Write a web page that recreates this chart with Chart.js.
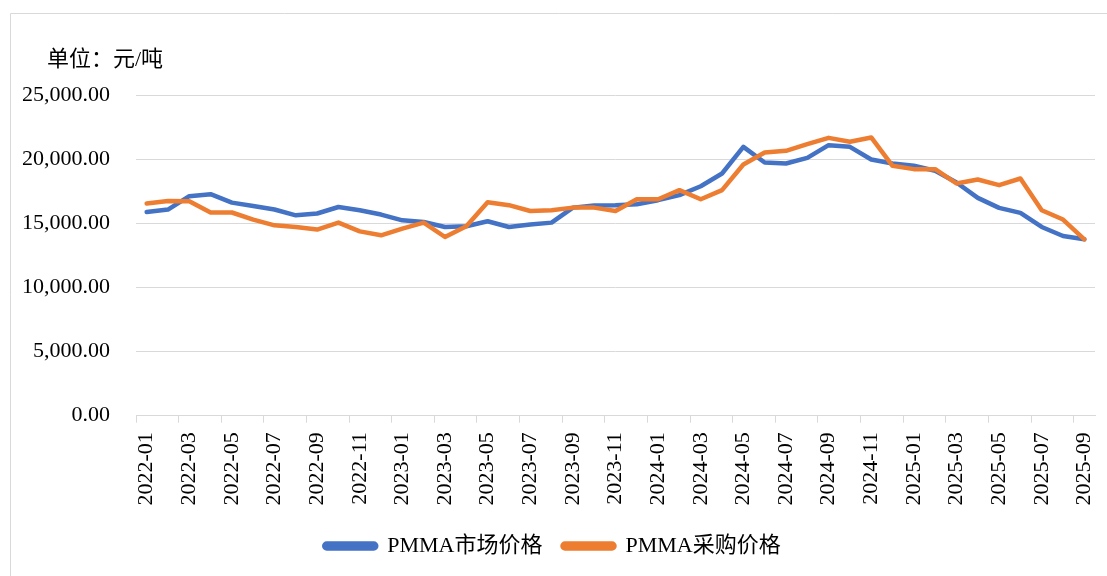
<!DOCTYPE html>
<html>
<head>
<meta charset="utf-8">
<script src="https://cdn.jsdelivr.net/npm/chart.js@4.4.1/dist/chart.umd.min.js"></script>
<style>
    html, body { margin: 0; padding: 0; background: #ffffff; }
    #wrap { width: 1107px; height: 576px; position: relative; }
</style>
</head>
<body>
<div id="wrap"><canvas id="priceChart" width="1107" height="576"></canvas></div>
<script>
// Monthly labels, 2022-01 .. 2025-09
const months = [
    '2022-01', '2022-02', '2022-03', '2022-04', '2022-05', '2022-06', '2022-07', '2022-08', '2022-09', '2022-10', '2022-11', '2022-12',
    '2023-01', '2023-02', '2023-03', '2023-04', '2023-05', '2023-06', '2023-07', '2023-08', '2023-09', '2023-10', '2023-11', '2023-12',
    '2024-01', '2024-02', '2024-03', '2024-04', '2024-05', '2024-06', '2024-07', '2024-08', '2024-09', '2024-10', '2024-11', '2024-12',
    '2025-01', '2025-02', '2025-03', '2025-04', '2025-05', '2025-06', '2025-07', '2025-08', '2025-09'
];

// PMMA市场价格 (元/吨)
const marketPrice = [
    15880, 16070, 17110, 17270, 16610, 16350, 16070, 15620, 15760, 16270, 16020, 15680,
    15230, 15100, 14710, 14770, 15160, 14710, 14900, 15050, 16220, 16380, 16400, 16480,
    16800, 17190, 17890, 18880, 20960, 19740, 19660, 20100, 21090, 20960, 19970, 19660,
    19480, 19090, 18180, 16980, 16200, 15810, 14710, 14010, 13750
];

// PMMA采购价格 (元/吨)
const purchasePrice = [
    16540, 16740, 16720, 15840, 15840, 15290, 14840, 14710, 14510, 15050, 14370, 14060,
    14580, 15050, 13930, 14770, 16640, 16410, 15960, 16020, 16220, 16220, 15960, 16870,
    16870, 17580, 16870, 17580, 19580, 20520, 20650, 21170, 21660, 21350, 21690, 19480,
    19220, 19220, 18100, 18410, 17970, 18490, 16020, 15290, 13750
];

const seriesNames = ['PMMA市场价格', 'PMMA采购价格'];
const yTicks = [0, 5000, 10000, 15000, 20000, 25000];
const unitLabel = '单位：元/吨';

const FONT = "'Liberation Serif', 'Times New Roman', 'Noto Sans CJK SC', serif";
const GRID = '#d9d9d9';

// white background, outer frame and unit text
const framePlugin = {
    id: 'frame',
    beforeDraw(chart) {
        const ctx = chart.ctx;
        ctx.save();
        ctx.fillStyle = '#ffffff';
        ctx.fillRect(0, 0, chart.width, chart.height);
        ctx.strokeStyle = GRID;
        ctx.lineWidth = 1;
        ctx.beginPath();
        ctx.moveTo(10.5, chart.height);
        ctx.lineTo(10.5, 13.5);
        ctx.lineTo(chart.width, 13.5);
        ctx.stroke();
        ctx.restore();
    },
    afterDraw(chart) {
        const ctx = chart.ctx;
        ctx.save();
        ctx.fillStyle = '#000000';
        ctx.font = '22px ' + FONT;
        ctx.textBaseline = 'middle';
        ctx.textAlign = 'left';
        ctx.fillText(unitLabel, 47, 60);
        ctx.restore();
    }
};

function formatNumber(value) {
    return Number(value).toLocaleString('en-US', {
        minimumFractionDigits: 2,
        maximumFractionDigits: 2
    });
}

const canvas = document.getElementById('priceChart');

new Chart(canvas.getContext('2d'), {
    type: 'line',
    data: {
        labels: months,
        datasets: [{
            label: seriesNames[0],
            data: marketPrice,
            borderColor: '#4472c4',
            backgroundColor: '#4472c4',
            borderWidth: 4.5,
            pointRadius: 0,
            tension: 0,
            borderJoinStyle: 'round',
            borderCapStyle: 'round',
            order: 1
        }, {
            label: seriesNames[1],
            data: purchasePrice,
            borderColor: '#ed7d31',
            backgroundColor: '#ed7d31',
            borderWidth: 4.5,
            pointRadius: 0,
            tension: 0,
            borderJoinStyle: 'round',
            borderCapStyle: 'round',
            order: 0
        }]
    },
    options: {
        responsive: false,
        animation: false,
        layout: {
            padding: { top: 95, right: 2, bottom: 9, left: 0 }
        },
        plugins: {
            legend: {
                position: 'bottom',
                labels: {
                    sort: (a, b) => a.datasetIndex - b.datasetIndex,
                    boxWidth: 52,
                    boxHeight: 5,
                    useBorderRadius: true,
                    borderRadius: 2.5,
                    padding: 20,
                    color: '#000000',
                    font: { family: FONT, size: 22 }
                }
            },
            tooltip: { enabled: false }
        },
        scales: {
            x: {
                offset: true,
                afterFit: (axis) => {
                    axis.paddingLeft = 0;
                    axis.paddingRight = 12;
                },
                grid: {
                    offset: true,
                    drawOnChartArea: false,
                    drawTicks: true,
                    tickLength: 7,
                    color: (c) => (c.index % 2 === 0 ? GRID : 'rgba(0,0,0,0)')
                },
                border: { display: true, color: GRID, width: 1 },
                ticks: {
                    autoSkip: false,
                    minRotation: 90,
                    maxRotation: 90,
                    padding: 9.5,
                    color: '#000000',
                    font: { family: FONT, size: 22 },
                    callback: function(value, index) {
                        return index % 2 === 0 ? this.getLabelForValue(value) : '';
                    }
                }
            },
            y: {
                min: 0,
                max: 25000,
                afterBuildTicks: (axis) => {
                    axis.ticks = yTicks.map(v => ({ value: v }));
                },
                afterFit: (axis) => {
                    axis.width = 136;
                },
                grid: {
                    color: GRID,
                    lineWidth: 1,
                    drawTicks: false
                },
                border: { display: false },
                ticks: {
                    padding: 26,
                    color: '#000000',
                    font: { family: FONT, size: 22 },
                    callback: (value) => formatNumber(value)
                }
            }
        }
    },
    plugins: [framePlugin]
});
</script>
</body>
</html>
